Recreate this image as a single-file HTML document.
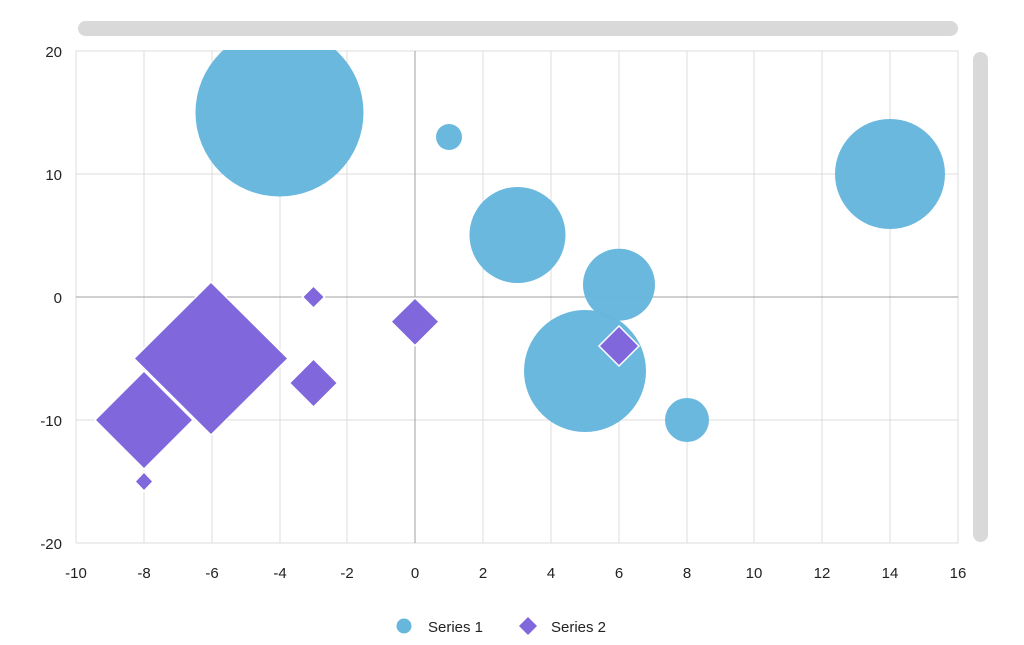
<!DOCTYPE html>
<html><head><style>
html,body{margin:0;padding:0;background:#fff;}
svg{display:block;font-family:"Liberation Sans",sans-serif;}
</style></head><body>
<svg width="1024" height="645" viewBox="0 0 1024 645">
<defs><clipPath id="c"><rect x="76" y="50" width="882" height="493"/></clipPath></defs>
<rect x="78" y="21" width="880" height="15" rx="7.5" fill="#d9d9d9"/>
<rect x="973" y="52" width="15" height="490" rx="7.5" fill="#d9d9d9"/>
<g stroke="#dcdcdc" stroke-width="1">
<line x1="76" y1="51" x2="958" y2="51"/><line x1="76" y1="174" x2="958" y2="174"/>
<line x1="76" y1="420" x2="958" y2="420"/><line x1="76" y1="543" x2="958" y2="543"/>
<line x1="76" y1="51" x2="76" y2="543"/><line x1="144" y1="51" x2="144" y2="543"/>
<line x1="212" y1="51" x2="212" y2="543"/><line x1="280" y1="51" x2="280" y2="543"/>
<line x1="347" y1="51" x2="347" y2="543"/><line x1="483" y1="51" x2="483" y2="543"/>
<line x1="551" y1="51" x2="551" y2="543"/><line x1="619" y1="51" x2="619" y2="543"/>
<line x1="687" y1="51" x2="687" y2="543"/><line x1="754" y1="51" x2="754" y2="543"/>
<line x1="822" y1="51" x2="822" y2="543"/><line x1="890" y1="51" x2="890" y2="543"/>
<line x1="958" y1="51" x2="958" y2="543"/>
</g>
<g stroke="#a0a0a0"><line x1="76" y1="297" x2="958" y2="297"/><line x1="415" y1="51" x2="415" y2="543"/></g>
<g clip-path="url(#c)" fill="#67b7dc" fill-opacity="0.98">
<circle cx="279.5" cy="112.5" r="84"/>
<circle cx="449" cy="137" r="13"/>
<circle cx="517.5" cy="235" r="48"/>
<circle cx="619" cy="284.7" r="36"/>
<circle cx="585" cy="371" r="61"/>
<circle cx="687" cy="420" r="22"/>
<circle cx="890" cy="174" r="55"/>
</g>
<g clip-path="url(#c)" fill="#8067dc" stroke="#fff" stroke-width="1.5">
<polygon points="211,282 288,358.5 211,435 134,358.5"/>
<polygon points="144,371 193,420 144,469 95,420"/>
<polygon points="144,472 153,481.5 144,491 135,481.5"/>
<polygon points="313.5,286 324.5,297 313.5,308 302.5,297"/>
<polygon points="313.5,359 337.5,383 313.5,407 289.5,383"/>
<polygon points="415,298 439,321.6 415,345.6 391,321.6"/>
<polygon points="619,326 639,346 619,366 599,346"/>
</g>
<g font-size="15" fill="#222" text-anchor="end">
<text x="62" y="57">20</text><text x="62" y="180">10</text><text x="62" y="303">0</text>
<text x="62" y="426">-10</text><text x="62" y="549">-20</text>
</g>
<g font-size="15" fill="#222" text-anchor="middle">
<text x="76" y="578">-10</text><text x="144" y="578">-8</text><text x="212" y="578">-6</text>
<text x="280" y="578">-4</text><text x="347" y="578">-2</text><text x="415" y="578">0</text>
<text x="483" y="578">2</text><text x="551" y="578">4</text><text x="619" y="578">6</text>
<text x="687" y="578">8</text><text x="754" y="578">10</text><text x="822" y="578">12</text>
<text x="890" y="578">14</text><text x="958" y="578">16</text>
</g>
<circle cx="404" cy="626" r="7.5" fill="#67b7dc"/>
<text x="428" y="632" font-size="15" fill="#222">Series 1</text>
<polygon points="528,617 537,626 528,635 519,626" fill="#8067dc"/>
<text x="551" y="632" font-size="15" fill="#222">Series 2</text>
</svg>
</body></html>
